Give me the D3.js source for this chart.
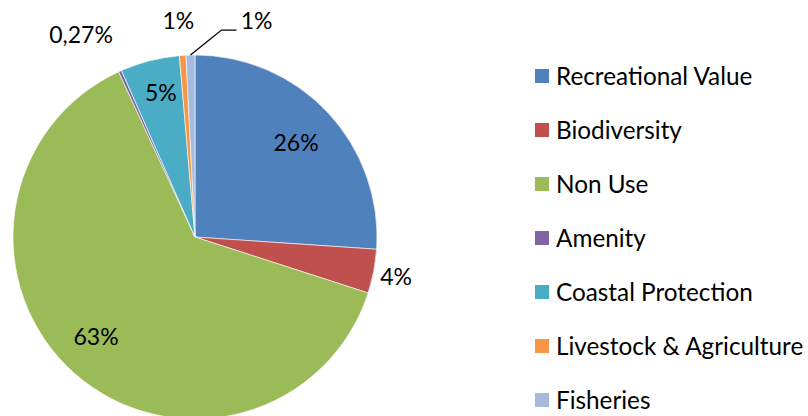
<!DOCTYPE html>
<html><head><meta charset="utf-8">
<script src="https://cdn.jsdelivr.net/npm/d3@7"></script>
<style>body{margin:0;background:#fff}svg{display:block}</style>
</head><body>
<svg id="c" width="808" height="416"></svg>
<script>
const categories = ["Recreational Value","Biodiversity","Non Use","Amenity","Coastal Protection","Livestock & Agriculture","Fisheries"];
const values = [26.06, 3.9, 63.1, 0.27, 5.25, 0.58, 0.79];
const labels = ["26%","4%","63%","0,27%","5%","1%","1%"];
const colors = ["#4F81BD","#C0504D","#9BBB59","#8064A2","#4BACC6","#F79646","#A7B9DC"];

const svg = d3.select("#c");
const cx = 195, cy = 237, r = 182;
const font = "Lato, 'Open Sans', sans-serif";

const pie = d3.pie().sort(null).value(d => d)(values);
const arc = d3.arc().innerRadius(0).outerRadius(r);
const g = svg.append("g").attr("transform", `translate(${cx},${cy})`);
g.selectAll("path").data(pie).join("path")
  .attr("d", arc).attr("fill", (d,i) => colors[i])
  .attr("stroke", "#fff").attr("stroke-width", 0.6);

const labelR = [0.76, 1.12, 0.77, 1.2, 0.8, 1.19, 1.19];
const labelShift = [[0,0],[1,1],[-6,-5],[-24,-3],[2,-3],[-2,0],[67,0]];
g.selectAll("text.lab").data(pie).join("text")
  .attr("class","lab")
  .attr("transform", (d,i) => {
    const a = (d.startAngle + d.endAngle)/2;
    const rr = r*labelR[i];
    return `translate(${Math.sin(a)*rr + labelShift[i][0]},${-Math.cos(a)*rr + labelShift[i][1]})`;
  })
  .attr("text-anchor","middle").attr("dy","0.35em")
  .attr("font-family", font).attr("font-size", 23).attr("fill","#000")
  .text((d,i) => labels[i]);

// leader line for fisheries
{
  const d = pie[6];
  const a = (d.startAngle + d.endAngle)/2;
  const x0 = Math.sin(a)*r, y0 = -Math.cos(a)*r;
  g.append("path")
    .attr("d", `M${x0},${y0}L${x0+31},${y0-25}L${x0+46},${y0-25}`)
    .attr("fill","none").attr("stroke","#000").attr("stroke-width",1.3);
}

// legend
const legend = svg.append("g").attr("transform","translate(535,76)");
const rows = legend.selectAll("g").data(categories).join("g")
  .attr("transform",(d,i)=>`translate(0,${i*54})`);
rows.append("rect").attr("x",0).attr("y",-7).attr("width",14).attr("height",14)
  .attr("fill",(d,i)=>colors[i]);
rows.append("text").attr("x",21).attr("dy","0.35em")
  .attr("font-family",font).attr("font-size",24.3).attr("fill","#000")
  .text(d=>d);
</script>
</body></html>
